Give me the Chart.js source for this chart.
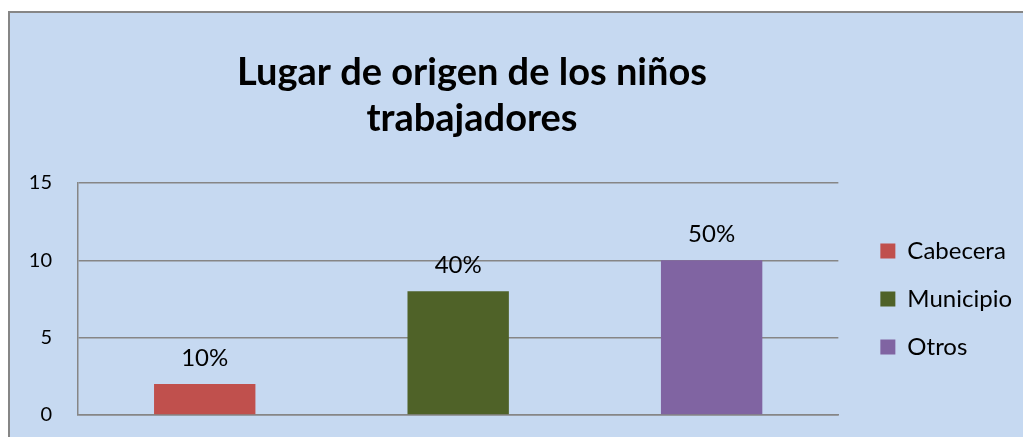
<!DOCTYPE html>
<html>
<head>
<meta charset="utf-8">
<script src="https://cdn.jsdelivr.net/npm/chart.js@4"></script>
<style>
  html, body { margin: 0; padding: 0; background: #fff; overflow: hidden; }
  #wrap { position: absolute; left: 0; top: 0; width: 1023px; height: 437px; }
</style>
</head>
<body>
<div id="wrap"><canvas id="chart"></canvas></div>
<script>
const categories = ['Cabecera', 'Municipio', 'Otros'];
const values = [2, 8, 10];
const percentLabels = ['10%', '40%', '50%'];
const barColors = ['#c0504d', '#4f6228', '#8064a2'];
const titleLines = ['Lugar de origen de los niños', 'trabajadores'];

const FONT = 'Lato, "Open Sans", sans-serif';
const BG = '#c6d9f1';
const EDGE = '#868686';

// light blue chart frame with the grey top/left edge
const frame = {
  id: 'frame',
  beforeDraw(chart) {
    const { ctx, width, height } = chart;
    ctx.save();
    ctx.fillStyle = '#fff';
    ctx.fillRect(0, 0, width, height);
    ctx.fillStyle = BG;
    ctx.fillRect(8, 11, width, height);
    ctx.fillStyle = EDGE;
    ctx.fillRect(8, 11, width, 2);
    ctx.fillRect(8, 11, 2, height);
    ctx.restore();
  },
};

// title drawn by hand so it can sit off the canvas centre like the original
const titleText = {
  id: 'titleText',
  afterDraw(chart) {
    const ctx = chart.ctx;
    ctx.save();
    ctx.font = 'bold 38px ' + FONT;
    ctx.fillStyle = '#000';
    ctx.textAlign = 'center';
    ctx.textBaseline = 'alphabetic';
    ctx.fillText(titleLines[0], 472, 85);
    ctx.fillText(titleLines[1], 472, 131);
    ctx.restore();
  },
};

// % text above each bar
const barLabels = {
  id: 'barLabels',
  afterDatasetsDraw(chart) {
    const ctx = chart.ctx;
    const meta = chart.getDatasetMeta(0);
    ctx.save();
    ctx.font = '24px ' + FONT;
    ctx.fillStyle = '#000';
    ctx.textAlign = 'center';
    ctx.textBaseline = 'alphabetic';
    meta.data.forEach((bar, i) => {
      ctx.fillText(percentLabels[i], bar.x, bar.y - 18);
    });
    ctx.restore();
  },
};

new Chart(document.getElementById('chart'), {
  type: 'bar',
  data: {
    labels: categories,
    datasets: [{
      label: 'Serie',
      data: values,
      backgroundColor: barColors,
      barPercentage: 0.4,
      categoryPercentage: 1,
    }],
  },
  options: {
    responsive: true,
    maintainAspectRatio: false,
    animation: false,
    layout: { padding: { left: 27, right: 1, top: 183, bottom: 22 } },
    scales: {
      x: {
        ticks: { display: false },
        grid: { display: false },
        border: { display: true, color: EDGE, width: 1.5 },
        afterFit(scale) { scale.height = 0; },
      },
      y: {
        min: 0,
        max: 15,
        ticks: { stepSize: 5, padding: 26, color: '#000', font: { family: FONT, size: 20 } },
        grid: { color: EDGE, lineWidth: 1.5, drawTicks: false },
        border: { display: true, color: EDGE, width: 1.5 },
        afterFit(scale) {
          // tick padding is only meant to push labels left, not shrink the plot vertically
          scale.width = 51;
          scale.paddingTop = 0;
          scale.paddingBottom = 0;
        },
      },
      gap: {
        position: 'right',
        display: true,
        ticks: { display: false },
        grid: { display: false },
        border: { display: false },
        afterFit(scale) { scale.width = 18; },
      },
    },
    plugins: {
      title: { display: false },
      legend: {
        position: 'right',
        fullSize: false,
        labels: {
          color: '#000',
          font: { family: FONT, size: 24 },
          boxWidth: 15,
          boxHeight: 15,
          padding: 24,
          generateLabels() {
            return categories.map((c, i) => ({
              text: c,
              fillStyle: barColors[i],
              strokeStyle: barColors[i],
              lineWidth: 0,
              fontColor: '#000',
              index: i,
            }));
          },
        },
      },
      tooltip: { enabled: false },
    },
  },
  plugins: [frame, titleText, barLabels],
});
</script>
</body>
</html>
